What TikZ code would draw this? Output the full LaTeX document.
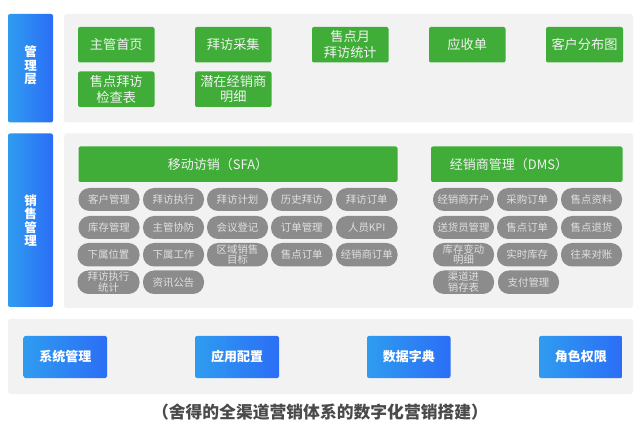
\documentclass[tikz,border=0pt]{standalone}
\usepackage{fontspec}
\setmainfont{Noto Sans CJK SC}
\usetikzlibrary{shadings}
\definecolor{panelgray}{HTML}{F2F2F2}
\definecolor{boxgreen}{HTML}{3FAD38}
\definecolor{pillgray}{HTML}{8C8C8C}
\definecolor{blueL}{HTML}{2F9CF0}
\definecolor{blueR}{HTML}{2B6EF6}
\definecolor{capgray}{HTML}{4A4A4A}
\tikzset{
  x=1pt,y=-1pt,
  panel/.style={fill=panelgray,draw=none,rounded corners=2.5pt},
  bluebox/.style={left color=blueL,right color=blueR,draw=none,rounded corners=2pt},
  greenbox/.style={fill=boxgreen,draw=none,rounded corners=2pt},
  pill/.style={fill=pillgray,draw=none,rounded corners=11pt},
  gtxt/.style={text=white!95!black,font=\fontsize{13.2}{15.5}\selectfont,align=center},
  htxt/.style={text=white!95!black,font=\fontsize{13}{16}\selectfont,align=center},
  ptxt/.style={text=white!88!black,font=\fontsize{10.4}{10.5}\selectfont,align=center},
  btxt/.style={text=white,font=\bfseries\fontsize{13}{15}\selectfont,align=center},
  stxt/.style={text=white,font=\bfseries\fontsize{12.5}{13.5}\selectfont,align=center},
  captxt/.style={text=capgray,font=\bfseries\fontsize{16.8}{18}\selectfont},
}
\newcommand{\gbox}[6]{\path[greenbox] (#2,#3) rectangle (#4,#5); \node[gtxt] (#1) at ({(#2+#4)/2},{(#3+#5)/2}) {#6};}
\newcommand{\pbox}[6]{\path[pill] (#2,#3) rectangle (#4,#5); \node[ptxt] (#1) at ({(#2+#4)/2},{(#3+#5)/2}) {#6};}
\newcommand{\bbox}[6]{\path[bluebox] (#2,#3) rectangle (#4,#5); \node[btxt] (#1) at ({(#2+#4)/2},{(#3+#5)/2}) {#6};}
\begin{document}
\begin{tikzpicture}
\useasboundingbox (0,0) rectangle (640,438);
\fill[white] (0,0) rectangle (640,438);
% panels
\path[panel] (64,14) rectangle (633,122.5);
\path[panel] (64,133.5) rectangle (633,308);
\path[panel] (8,319) rectangle (633,394);
% side bars
\path[bluebox] (8,14) rectangle (53,122.5);
\node[stxt] (sideA) at (30.5,65.5) {管\\理\\层};
\path[bluebox] (8,133.5) rectangle (53,307);
\node[stxt] (sideB) at (30.5,220.5) {销\\售\\管\\理};
% top green
\gbox{g1}{78}{27}{154.5}{62.5}{主管首页}
\gbox{g2}{195}{27}{271.5}{62.5}{拜访采集}
\gbox{g3}{312}{27}{388.5}{62.5}{售点月\\拜访统计}
\gbox{g4}{429}{27}{505.5}{62.5}{应收单}
\gbox{g5}{546}{27}{623}{62.5}{客户分布图}
\gbox{g6}{78}{71.5}{154.5}{107}{售点拜访\\检查表}
\gbox{g7}{195}{71.5}{271.5}{107}{潜在经销商\\明细}
% headers
\path[greenbox] (78.5,146.5) rectangle (397.5,182);
\node[htxt] (sfa) at (218,165) {移动访销（SFA）};
\path[greenbox] (431,146.5) rectangle (622.5,182);
\node[htxt] (dms) at (509,165) {经销商管理（DMS）};
% SFA pills
\pbox{a1}{78.5}{188}{139.5}{211}{客户管理}
\pbox{a2}{143}{188}{204}{211}{拜访执行}
\pbox{a3}{207}{188}{268}{211}{拜访计划}
\pbox{a4}{271}{188}{332.5}{211}{历史拜访}
\pbox{a5}{336}{188}{397.5}{211}{拜访订单}
\pbox{b1}{78.5}{216}{139.5}{239}{库存管理}
\pbox{b2}{143}{216}{204}{239}{主管协防}
\pbox{b3}{207}{216}{268}{239}{会议登记}
\pbox{b4}{271}{216}{332.5}{239}{订单管理}
\pbox{b5}{336}{216}{397.5}{239}{人员KPI}
\pbox{c1}{77.5}{243}{139.5}{266.5}{下属位置}
\pbox{c2}{143}{243}{204}{266.5}{下属工作}
\pbox{c3}{207}{243}{268}{266.5}{区域销售\\目标}
\pbox{c4}{271}{243}{332.5}{266.5}{售点订单}
\pbox{c5}{336}{243}{397.5}{266.5}{经销商订单}
\pbox{d1}{77.5}{270.5}{139.5}{294}{拜访执行\\统计}
\pbox{d2}{143}{270.5}{204}{294}{资讯公告}
% DMS pills
\pbox{e1}{433}{188}{494}{211}{经销商开户}
\pbox{e2}{497}{188}{557.5}{211}{采购订单}
\pbox{e3}{561}{188}{622}{211}{售点资料}
\pbox{f1}{433}{216}{494}{239}{送货员管理}
\pbox{f2}{497}{216}{557.5}{239}{售点订单}
\pbox{f3}{561}{216}{622}{239}{售点退货}
\pbox{h1}{433}{243}{494}{266.5}{库存变动\\明细}
\pbox{h2}{497}{243}{557.5}{266.5}{实时库存}
\pbox{h3}{561}{243}{622}{266.5}{往来对账}
\pbox{i1}{433}{270.5}{494}{294}{渠道进\\销存表}
\pbox{i2}{498}{270.5}{559}{294}{支付管理}
% bottom
\bbox{s1}{23.5}{336}{107}{378}{系统管理}
\bbox{s2}{195}{336}{279}{378}{应用配置}
\bbox{s3}{367}{336}{450.5}{378}{数据字典}
\bbox{s4}{539}{336}{622.5}{378}{角色权限}
\node[captxt] (cap) at (320,412.5) {（舍得的全渠道营销体系的数字化营销搭建）};
\end{tikzpicture}
\end{document}
